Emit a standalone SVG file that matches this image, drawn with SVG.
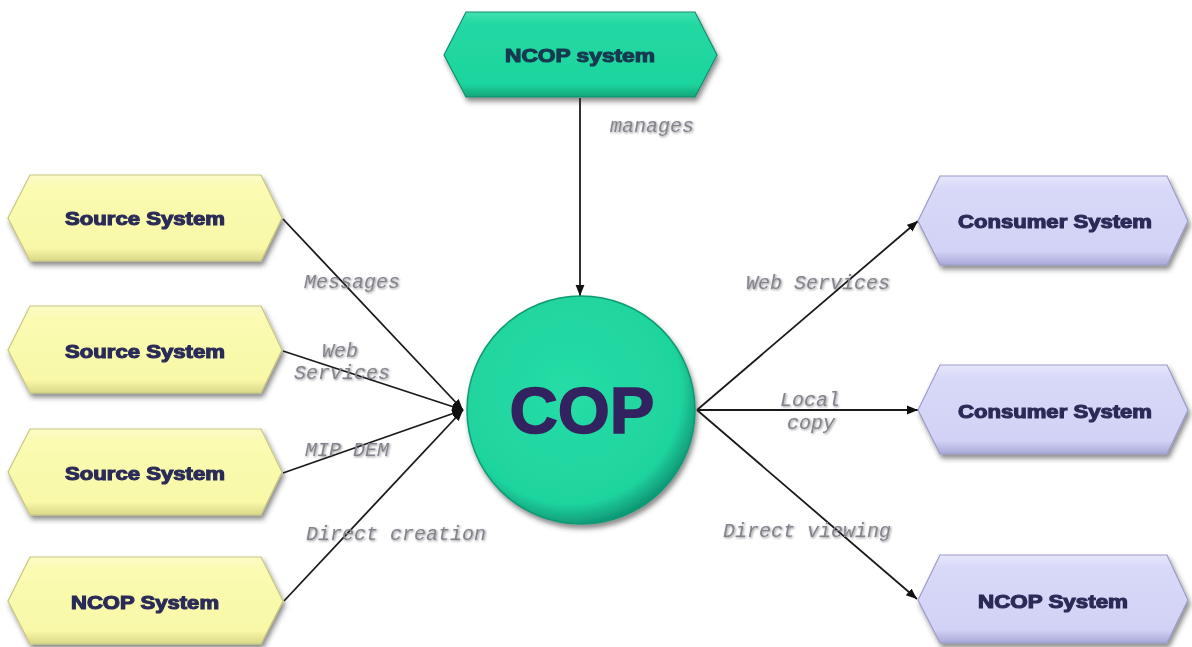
<svg xmlns="http://www.w3.org/2000/svg" width="1192" height="647" viewBox="0 0 1192 647">
<defs>
  <filter id="sh" x="-10%" y="-10%" width="125%" height="140%">
    <feDropShadow dx="2" dy="4" stdDeviation="2.5" flood-color="#333" flood-opacity="0.55"/>
  </filter>
  <filter id="tsh" x="-10%" y="-30%" width="120%" height="160%">
    <feDropShadow dx="1" dy="1" stdDeviation="1" flood-color="#222" flood-opacity="0.5"/>
  </filter>
  <linearGradient id="gy" x1="0" y1="0" x2="0" y2="1">
    <stop offset="0" stop-color="#fbfbc8"/>
    <stop offset="0.15" stop-color="#fbfbb2"/>
    <stop offset="0.85" stop-color="#f8f8a8"/>
    <stop offset="1" stop-color="#d8d888"/>
  </linearGradient>
  <linearGradient id="gl" x1="0" y1="0" x2="0" y2="1">
    <stop offset="0" stop-color="#e6e6fc"/>
    <stop offset="0.15" stop-color="#d8d8f8"/>
    <stop offset="0.85" stop-color="#d2d2f6"/>
    <stop offset="1" stop-color="#a8a8d8"/>
  </linearGradient>
  <linearGradient id="gt" x1="0" y1="0" x2="0" y2="1">
    <stop offset="0" stop-color="#40e0b0"/>
    <stop offset="0.15" stop-color="#22d8a2"/>
    <stop offset="0.85" stop-color="#1ed49e"/>
    <stop offset="1" stop-color="#12a47a"/>
  </linearGradient>
  <radialGradient id="gc" cx="0.45" cy="0.42" r="0.6">
    <stop offset="0" stop-color="#26dca6"/>
    <stop offset="0.82" stop-color="#1fd49e"/>
    <stop offset="1" stop-color="#0c9070"/>
  </radialGradient>
  <marker id="ah" viewBox="0 0 10 10" refX="10" refY="5" markerWidth="11" markerHeight="11" markerUnits="userSpaceOnUse" orient="auto">
    <path d="M0,1 L10,5 L0,9 Z" fill="#111"/>
  </marker>
  <style>
    .ntext{font-family:"Liberation Sans",Arial,sans-serif;font-weight:bold;font-size:18px;fill:#2c2c58;text-anchor:middle;stroke:#2c2c58;stroke-width:1.1px}
    .lbl{font-family:"Liberation Mono","Courier New",monospace;font-style:italic;font-size:20px;fill:#84848e}
    .conn{stroke:#1a1a1a;stroke-width:1.8;fill:none;marker-end:url(#ah)}
    .edgey{stroke:#c8c880;stroke-width:1.2}
    .edgel{stroke:#9c9cc8;stroke-width:1.2}
    .edget{stroke:#109070;stroke-width:1.2}
  </style>
</defs>
<rect width="1192" height="647" fill="#ffffff"/>

<g id="connectors">
  <line class="conn" x1="580" y1="98" x2="580" y2="296"/>
  <line class="conn" x1="283" y1="219" x2="463" y2="410"/>
  <line class="conn" x1="283" y1="351" x2="463" y2="410"/>
  <line class="conn" x1="283" y1="473" x2="463" y2="410"/>
  <line class="conn" x1="284" y1="601" x2="463" y2="410"/>
  <line class="conn" x1="697" y1="410" x2="918" y2="221"/>
  <line class="conn" x1="697" y1="410" x2="918" y2="410"/>
  <line class="conn" x1="697" y1="410" x2="917" y2="599"/>
</g>

<g id="labels" filter="url(#tsh)">
  <text class="lbl" x="610" y="132">manages</text>
  <text class="lbl" x="304" y="288">Messages</text>
  <text class="lbl" x="322" y="357">Web</text>
  <text class="lbl" x="294" y="379">Services</text>
  <text class="lbl" x="305" y="456">MIP DEM</text>
  <text class="lbl" x="306" y="540">Direct creation</text>
  <text class="lbl" x="746" y="289">Web Services</text>
  <text class="lbl" x="780" y="406">Local</text>
  <text class="lbl" x="787" y="429">copy</text>
  <text class="lbl" x="723" y="537">Direct viewing</text>
</g>

<g id="ncop-top" filter="url(#sh)">
  <polygon class="edget" points="444,55 466,12 695,12 717,55 695,97 466,97" fill="url(#gt)"/>
  <text class="ntext" x="580" y="62" textLength="150" lengthAdjust="spacingAndGlyphs" style="fill:#143a50;stroke:#143a50">NCOP system</text>
</g>

<g id="source1" filter="url(#sh)">
  <polygon class="edgey" points="8,218 30,175 261,175 282,218 261,261 30,261" fill="url(#gy)"/>
  <text class="ntext" x="145" y="225" textLength="160" lengthAdjust="spacingAndGlyphs">Source System</text>
</g>
<g id="source2" filter="url(#sh)">
  <polygon class="edgey" points="8,350 30,306 261,306 282,350 261,393 30,393" fill="url(#gy)"/>
  <text class="ntext" x="145" y="358" textLength="160" lengthAdjust="spacingAndGlyphs">Source System</text>
</g>
<g id="source3" filter="url(#sh)">
  <polygon class="edgey" points="8,472 30,429 261,429 282,472 261,515 30,515" fill="url(#gy)"/>
  <text class="ntext" x="145" y="480" textLength="160" lengthAdjust="spacingAndGlyphs">Source System</text>
</g>
<g id="ncop-left" filter="url(#sh)">
  <polygon class="edgey" points="8,601 30,557 261,557 283,601 261,644 30,644" fill="url(#gy)"/>
  <text class="ntext" x="145" y="609" textLength="148" lengthAdjust="spacingAndGlyphs">NCOP System</text>
</g>

<g id="cop" filter="url(#sh)">
  <circle cx="581" cy="410" r="114" fill="url(#gc)" stroke="#0f9a74" stroke-width="1.5"/>
  <text x="582" y="433" text-anchor="middle" font-family="'Liberation Sans',Arial,sans-serif" font-weight="bold" font-size="64" fill="#33245e" stroke="#33245e" stroke-width="1.5" textLength="145" lengthAdjust="spacingAndGlyphs">COP</text>
</g>

<g id="consumer1" filter="url(#sh)">
  <polygon class="edgel" points="918,221 940,176 1167,176 1188,221 1167,265 940,265" fill="url(#gl)"/>
  <text class="ntext" x="1055" y="228" textLength="194" lengthAdjust="spacingAndGlyphs">Consumer System</text>
</g>
<g id="consumer2" filter="url(#sh)">
  <polygon class="edgel" points="918,410 940,365 1167,365 1188,410 1167,454 940,454" fill="url(#gl)"/>
  <text class="ntext" x="1055" y="418" textLength="194" lengthAdjust="spacingAndGlyphs">Consumer System</text>
</g>
<g id="ncop-right" filter="url(#sh)">
  <polygon class="edgel" points="918,600 940,555 1167,555 1188,600 1167,643 940,643" fill="url(#gl)"/>
  <text class="ntext" x="1053" y="608" textLength="150" lengthAdjust="spacingAndGlyphs">NCOP System</text>
</g>
</svg>
